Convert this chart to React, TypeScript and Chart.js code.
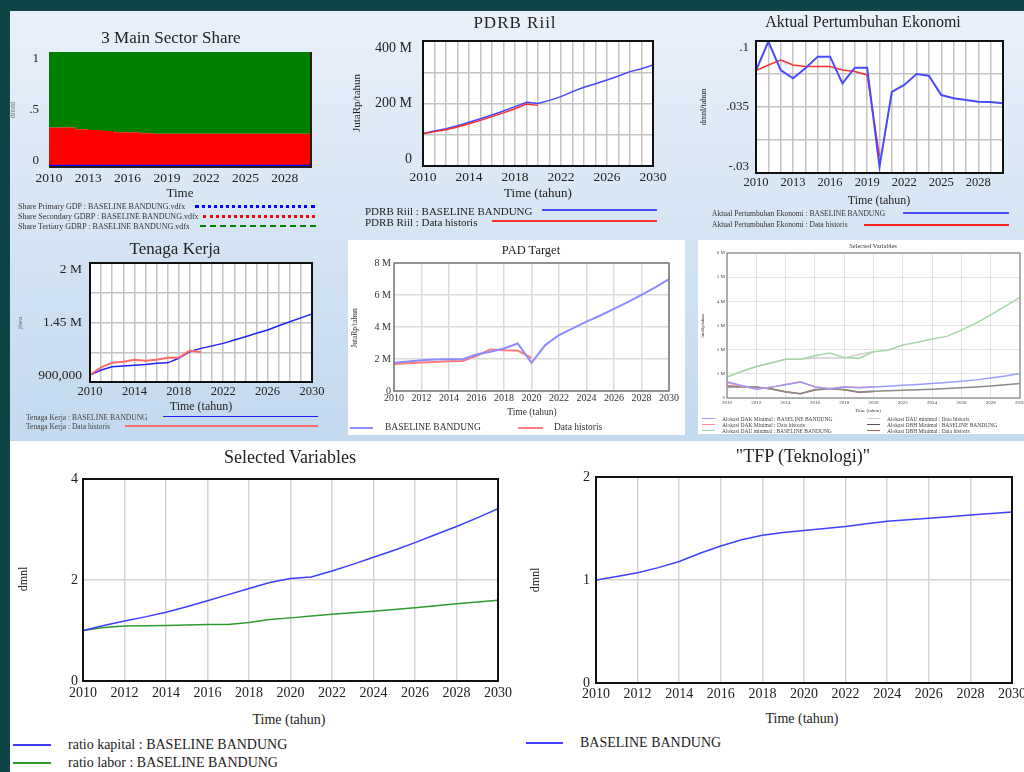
import React, { useEffect, useRef } from 'react';
import { Chart, registerables } from 'chart.js';
Chart.register(...registerables);

const SERIF = '"Liberation Serif","Times New Roman",serif';

// ---------- shared axes ----------
const YEARS = [2010, 2011, 2012, 2013, 2014, 2015, 2016, 2017, 2018, 2019, 2020, 2021, 2022, 2023, 2024, 2025, 2026, 2027, 2028, 2029, 2030];
const YEARS_HIST = [2010, 2011, 2012, 2013, 2014, 2015, 2016, 2017, 2018, 2019, 2020];
const X_GRID_1 = [2010, 2011, 2012, 2013, 2014, 2015, 2016, 2017, 2018, 2019, 2020, 2021, 2022, 2023, 2024, 2025, 2026, 2027, 2028, 2029, 2030];
const X_GRID_2 = [2010, 2012, 2014, 2016, 2018, 2020, 2022, 2024, 2026, 2028, 2030];
const X_LABELS_3 = [2010, 2013, 2016, 2019, 2022, 2025, 2028];
const X_LABELS_4 = [2010, 2014, 2018, 2022, 2026, 2030];
const X_LABELS_2 = [2010, 2012, 2014, 2016, 2018, 2020, 2022, 2024, 2026, 2028, 2030];

// ---------- 3 Main Sector Share ----------
const SHARE_PRIMARY = [0.01, 0.01, 0.01, 0.01, 0.01, 0.01, 0.01, 0.01, 0.01, 0.01, 0.01, 0.01, 0.01, 0.01, 0.01, 0.01, 0.01, 0.01, 0.01, 0.01, 0.01];
const SHARE_SECONDARY = [0.334, 0.334, 0.319, 0.311, 0.302, 0.293, 0.293, 0.284, 0.279, 0.279, 0.279, 0.279, 0.279, 0.279, 0.279, 0.279, 0.279, 0.279, 0.279, 0.279, 0.279];
const SHARE_TERTIARY = [0.656, 0.656, 0.671, 0.679, 0.688, 0.697, 0.697, 0.706, 0.711, 0.711, 0.711, 0.711, 0.711, 0.711, 0.711, 0.711, 0.711, 0.711, 0.711, 0.711, 0.711];
const SHARE_Y_LABELS: [number, string][] = [[0, '0'], [0.5, '.5'], [1, '1']];

// ---------- PDRB Riil (juta Rp, in millions) ----------
const PDRB_BASE = [104, 112, 119, 129, 140, 151, 163, 176, 190, 204, 200, 210, 222, 238, 252, 263, 275, 288, 302, 311, 323];
const PDRB_HIST = [103, 110, 116, 125, 135, 146, 158, 170, 183, 198, 194];
const PDRB_Y_GRID = [0, 100, 200, 300, 400];
const PDRB_Y_LABELS: [number, string][] = [[0, '0'], [200, '200 M'], [400, '400 M']];

// ---------- Aktual Pertumbuhan Ekonomi ----------
const GROWTH_BASE = [0.0708, 0.0995, 0.0714, 0.0633, 0.0731, 0.0846, 0.0846, 0.0583, 0.0737, 0.0737, -0.0238, 0.05, 0.0567, 0.0675, 0.0658, 0.0468, 0.0436, 0.0419, 0.0402, 0.04, 0.0386];
const GROWTH_HIST = [0.0708, 0.0764, 0.0813, 0.0764, 0.0748, 0.0748, 0.0748, 0.0714, 0.07, 0.0666, -0.0139];
const GROWTH_Y_GRID = [-0.03, 0.0025, 0.035, 0.0675, 0.1];
const GROWTH_Y_LABELS: [number, string][] = [[-0.03, '-.03'], [0.035, '.035'], [0.1, '.1']];

// ---------- Tenaga Kerja (millions) ----------
const TK_BASE = [0.965, 1.011, 1.041, 1.047, 1.054, 1.061, 1.073, 1.077, 1.119, 1.18, 1.211, 1.234, 1.257, 1.288, 1.319, 1.35, 1.381, 1.42, 1.457, 1.493, 1.529];
const TK_HIST = [0.965, 1.036, 1.079, 1.088, 1.106, 1.097, 1.106, 1.125, 1.125, 1.19, 1.175];
const TK_Y_GRID = [0.9, 1.175, 1.45, 1.725, 2.0];
const TK_Y_LABELS: [number, string][] = [[0.9, '900,000'], [1.45, '1.45 M'], [2, '2 M']];

// ---------- PAD Target (millions) ----------
const PAD_BASE = [1.76, 1.85, 1.92, 1.97, 1.99, 1.99, 2.28, 2.45, 2.66, 2.97, 1.76, 2.87, 3.5, 3.92, 4.34, 4.72, 5.13, 5.55, 6.01, 6.48, 7.0];
const PAD_HIST = [1.68, 1.73, 1.78, 1.82, 1.86, 1.88, 2.2, 2.6, 2.55, 2.53, 2.07];
const PAD_Y_GRID = [0, 2, 4, 6, 8];
const PAD_Y_LABELS: [number, string][] = [[0, '0'], [2, '2 M'], [4, '4 M'], [6, '6 M'], [8, '8 M']];

// ---------- Selected Variables (transfer allocations, millions) ----------
const DAK_BASE = [0.67, 0.52, 0.36, 0.45, 0.55, 0.66, 0.46, 0.37, 0.46, 0.42, 0.46, 0.49, 0.53, 0.56, 0.6, 0.64, 0.69, 0.75, 0.83, 0.91, 1.01];
const DAK_HIST = [0.64, 0.5, 0.37, 0.44, 0.56, 0.67, 0.47, 0.38, 0.47, 0.43, 0.47];
const DAU_BASE = [0.87, 1.1, 1.3, 1.45, 1.6, 1.6, 1.75, 1.86, 1.68, 1.64, 1.91, 1.98, 2.19, 2.31, 2.44, 2.55, 2.81, 3.1, 3.44, 3.8, 4.16];
const DAU_HIST = [0.87, 1.1, 1.3, 1.45, 1.6, 1.6, 1.66, 1.66, 1.66, 1.8, 1.91];
const DBH_BASE = [0.46, 0.46, 0.46, 0.37, 0.25, 0.18, 0.35, 0.39, 0.35, 0.25, 0.28, 0.3, 0.32, 0.34, 0.36, 0.39, 0.42, 0.46, 0.5, 0.55, 0.6];
const DBH_HIST = [0.5, 0.48, 0.45, 0.38, 0.26, 0.18, 0.33, 0.38, 0.34, 0.24, 0.27];
const ALOK_Y_GRID = [0, 1, 2, 3, 4, 5, 6];
const ALOK_Y_LABELS: [number, string][] = [[0, '0'], [1, '1 M'], [2, '2 M'], [3, '3 M'], [4, '4 M'], [5, '5 M'], [6, '6 M']];

// ---------- ratio kapital / labor ----------
const RATIO_KAPITAL = [1.0, 1.1, 1.19, 1.27, 1.36, 1.47, 1.59, 1.71, 1.83, 1.95, 2.03, 2.06, 2.18, 2.31, 2.45, 2.59, 2.74, 2.9, 3.06, 3.23, 3.41];
const RATIO_LABOR = [1.0, 1.06, 1.09, 1.095, 1.1, 1.11, 1.12, 1.12, 1.16, 1.22, 1.25, 1.285, 1.32, 1.35, 1.38, 1.415, 1.45, 1.49, 1.53, 1.565, 1.6];
const RATIO_Y_GRID = [0, 2, 4];
const RATIO_Y_LABELS: [number, string][] = [[0, '0'], [2, '2'], [4, '4']];

// ---------- TFP ----------
const TFP = [1.0, 1.035, 1.07, 1.12, 1.18, 1.26, 1.33, 1.39, 1.435, 1.46, 1.48, 1.5, 1.52, 1.545, 1.57, 1.585, 1.6, 1.615, 1.63, 1.645, 1.66];
const TFP_Y_GRID = [0, 1, 2];
const TFP_Y_LABELS: [number, string][] = [[0, '0'], [1, '1'], [2, '2']];

const pts = (xs: number[], ys: number[]) => ys.map((y, i) => ({ x: xs[i], y }));
const line = (xs: number[], ys: number[], color: string, w: number, extra: any = {}) => ({
  data: pts(xs, ys), borderColor: color, backgroundColor: color, borderWidth: w, fill: false, pointRadius: 0, tension: 0, ...extra,
});

interface Spec {
  plot: [number, number, number, number];
  xMin: number; xMax: number; xGrid: number[] | null; xLabels: number[];
  yMin: number; yMax: number; yGrid: number[] | null; yLabels: [number, string][];
  stacked?: boolean;
  grid: string; gridW: number; frame: string; frameW: number; frameSides?: 'all' | 'rb';
  plotBg?: string;
  xFont: number; yFont: number; xDy: number; yDx: number; clamp: boolean; tickColor: string;
  datasets: any[];
}

function VChart({ spec }: { spec: Spec }) {
  const ref = useRef<HTMLCanvasElement>(null);
  const [x0, y0, x1, y1] = spec.plot;
  const L = 64, T = 14, R = 14, B = 28;
  const bx = x0 - L, by = y0 - T, bw = x1 - x0 + L + R, bh = y1 - y0 + T + B;
  useEffect(() => {
    const canvas = ref.current!;
    const decor = {
      id: 'decor',
      beforeDraw(chart: any) {
        if (!spec.plotBg) return;
        const { ctx, chartArea: a } = chart;
        ctx.save();
        ctx.fillStyle = spec.plotBg;
        ctx.fillRect(a.left, a.top, a.right - a.left, a.bottom - a.top);
        ctx.restore();
      },
      afterDatasetsDraw(chart: any) {
        const { ctx, chartArea: a } = chart;
        ctx.save();
        ctx.strokeStyle = spec.frame;
        ctx.lineWidth = spec.frameW;
        if (spec.frameSides === 'rb') {
          ctx.beginPath();
          ctx.moveTo(a.right, a.top);
          ctx.lineTo(a.right, a.bottom);
          ctx.lineTo(a.left, a.bottom);
          ctx.stroke();
        } else {
          ctx.strokeRect(a.left, a.top, a.right - a.left, a.bottom - a.top);
        }
        ctx.restore();
      },
      afterDraw(chart: any) {
        const { ctx, chartArea: a, scales } = chart;
        ctx.save();
        ctx.fillStyle = spec.tickColor;
        ctx.textBaseline = 'middle';
        ctx.font = `${spec.xFont}px ${SERIF}`;
        ctx.textAlign = 'center';
        spec.xLabels.forEach((v) => ctx.fillText(String(v), scales.x.getPixelForValue(v), a.bottom + spec.xDy));
        ctx.font = `${spec.yFont}px ${SERIF}`;
        ctx.textAlign = 'right';
        const h = spec.yFont / 2;
        spec.yLabels.forEach(([v, t]) => {
          let y = scales.y.getPixelForValue(v);
          if (spec.clamp) y = Math.max(a.top + h, Math.min(a.bottom - h, y));
          ctx.fillText(t, a.left - spec.yDx, y);
        });
        ctx.restore();
      },
    };
    const chart = new Chart(canvas, {
      type: 'line',
      data: { datasets: spec.datasets },
      options: {
        responsive: false,
        maintainAspectRatio: false,
        animation: false,
        events: [],
        layout: { padding: { left: L, top: T, right: R, bottom: B } },
        plugins: { legend: { display: false }, title: { display: false }, tooltip: { enabled: false } },
        scales: {
          x: {
            type: 'linear', min: spec.xMin, max: spec.xMax,
            ticks: { display: false },
            border: { display: false },
            grid: { display: !!spec.xGrid, color: spec.grid, lineWidth: spec.gridW, drawTicks: false },
            afterBuildTicks: (s: any) => { s.ticks = (spec.xGrid || []).map((v) => ({ value: v })); },
            afterFit: (s: any) => { s.height = 0; },
          },
          y: {
            type: 'linear', min: spec.yMin, max: spec.yMax, stacked: !!spec.stacked,
            ticks: { display: false },
            border: { display: false },
            grid: { display: !!spec.yGrid, color: spec.grid, lineWidth: spec.gridW, drawTicks: false },
            afterBuildTicks: (s: any) => { s.ticks = (spec.yGrid || []).map((v) => ({ value: v })); },
            afterFit: (s: any) => { s.width = 0; },
          },
        },
      } as any,
      plugins: [decor],
    });
    return () => chart.destroy();
  }, []);
  return <canvas ref={ref} width={bw} height={bh} style={{ position: 'absolute', left: bx, top: by, width: bw, height: bh }} />;
}

function Txt({ x, y, t, s, a = 'c', rot = false, color = '#222', ls = 0 }: any) {
  const base = s < 9 ? s * 2 : s;
  const k = s / base;
  const tr = (a === 'c' ? 'translate(-50%,-50%)' : 'translate(0,-50%)') + (rot ? ' rotate(-90deg)' : '') + (k !== 1 ? ` scale(${k})` : '');
  return (
    <div style={{
      position: 'absolute', left: x, top: y, transform: tr, transformOrigin: a === 'c' ? 'center center' : 'left center',
      fontSize: base, lineHeight: 1, whiteSpace: 'nowrap', color, letterSpacing: ls, fontFamily: SERIF,
    }}>{t}</div>
  );
}

function Ln({ x0, x1, y, c, w = 2, st = 'solid' }: any) {
  return <div style={{ position: 'absolute', left: x0, top: y - w / 2, width: x1 - x0, height: 0, borderTop: `${w}px ${st} ${c}` }} />;
}

const vensim = { grid: '#c4c4c4', gridW: 1.5, frame: '#111', frameW: 2, plotBg: '#ffffff', clamp: true, tickColor: '#222' };

const SPECS: Spec[] = [
  {
    plot: [49, 52, 311, 167], xMin: 2010, xMax: 2030, xGrid: null, xLabels: X_LABELS_3,
    yMin: 0, yMax: 1, yGrid: null, yLabels: SHARE_Y_LABELS, stacked: true,
    grid: '#ccc', gridW: 1, frame: '#2a1a1a', frameW: 2, frameSides: 'rb', clamp: true, tickColor: '#222',
    xFont: 13.5, yFont: 13, xDy: 11, yDx: 10,
    datasets: [
      line(YEARS, SHARE_PRIMARY, '#0000ff', 2, { fill: 'origin', stepped: true }),
      line(YEARS, SHARE_SECONDARY, '#ff0000', 0, { fill: '-1', stepped: true }),
      line(YEARS, SHARE_TERTIARY, '#008000', 0, { fill: '-1', stepped: true }),
    ],
  },
  {
    ...vensim, plot: [423, 41, 653, 166], xMin: 2010, xMax: 2030, xGrid: X_GRID_1, xLabels: X_LABELS_4,
    yMin: 0, yMax: 400, yGrid: PDRB_Y_GRID, yLabels: PDRB_Y_LABELS,
    xFont: 13.5, yFont: 14, xDy: 11, yDx: 11,
    datasets: [line(YEARS_HIST, PDRB_HIST, '#ff2a2a', 1.5), line(YEARS, PDRB_BASE, '#4646ff', 1.5)],
  },
  {
    ...vensim, plot: [756, 41, 1003, 173], xMin: 2010, xMax: 2030, xGrid: X_GRID_1, xLabels: X_LABELS_3,
    yMin: -0.03, yMax: 0.1, yGrid: GROWTH_Y_GRID, yLabels: GROWTH_Y_LABELS,
    xFont: 12.5, yFont: 13, xDy: 10, yDx: 7,
    datasets: [line(YEARS, GROWTH_BASE, '#4a4aff', 2), line(YEARS_HIST, GROWTH_HIST, '#ff3030', 1.5)],
  },
  {
    ...vensim, plot: [90, 263, 312, 382], xMin: 2010, xMax: 2030, xGrid: X_GRID_1, xLabels: X_LABELS_4,
    yMin: 0.9, yMax: 2.0, yGrid: TK_Y_GRID, yLabels: TK_Y_LABELS,
    xFont: 12.5, yFont: 13.5, xDy: 10, yDx: 8,
    datasets: [line(YEARS_HIST, TK_HIST, '#ff6a6a', 2), line(YEARS, TK_BASE, '#2020ff', 1.5)],
  },
  {
    plot: [394, 263, 669, 391], xMin: 2010, xMax: 2030, xGrid: X_GRID_2, xLabels: X_LABELS_2,
    yMin: 0, yMax: 8, yGrid: PAD_Y_GRID, yLabels: PAD_Y_LABELS,
    grid: '#dcdcdc', gridW: 1.5, frame: '#777', frameW: 1.5, plotBg: '#fff', clamp: false, tickColor: '#333',
    xFont: 10, yFont: 10, xDy: 7, yDx: 3,
    datasets: [line(YEARS, PAD_BASE, '#8c8cff', 2), line(YEARS_HIST, PAD_HIST, '#ff7a7a', 2)],
  },
  {
    plot: [727, 253, 1020, 398], xMin: 2010, xMax: 2030, xGrid: X_GRID_2, xLabels: X_LABELS_2,
    yMin: 0, yMax: 6, yGrid: ALOK_Y_GRID, yLabels: ALOK_Y_LABELS,
    grid: '#e2e2e2', gridW: 1, frame: '#999', frameW: 1.5, plotBg: '#fff', clamp: false, tickColor: '#444',
    xFont: 5, yFont: 5, xDy: 5, yDx: 2,
    datasets: [
      line(YEARS, DAK_BASE, '#9d9dff', 1.5),
      line(YEARS_HIST, DAK_HIST, '#ff8a8a', 1.5),
      line(YEARS, DAU_BASE, '#a6d6a6', 1.5),
      line(YEARS_HIST, DAU_HIST, '#cfcfcf', 1.5),
      line(YEARS, DBH_BASE, '#8a8a8a', 1.5),
      line(YEARS_HIST, DBH_HIST, '#b06060', 1.5),
    ],
  },
  {
    plot: [83, 479, 498, 681], xMin: 2010, xMax: 2030, xGrid: X_GRID_2, xLabels: X_LABELS_2,
    yMin: 0, yMax: 4, yGrid: RATIO_Y_GRID, yLabels: RATIO_Y_LABELS,
    grid: '#d6d6d6', gridW: 1.5, frame: '#111', frameW: 2, plotBg: '#fff', clamp: false, tickColor: '#222',
    xFont: 14, yFont: 14, xDy: 12, yDx: 5,
    datasets: [line(YEARS, RATIO_KAPITAL, '#3d3dff', 1.5), line(YEARS, RATIO_LABOR, '#2e9a2e', 1.5)],
  },
  {
    plot: [596, 477, 1012, 683], xMin: 2010, xMax: 2030, xGrid: X_GRID_2, xLabels: X_LABELS_2,
    yMin: 0, yMax: 2, yGrid: TFP_Y_GRID, yLabels: TFP_Y_LABELS,
    grid: '#d6d6d6', gridW: 1.5, frame: '#111', frameW: 2, plotBg: '#fff', clamp: false, tickColor: '#222',
    xFont: 14, yFont: 14, xDy: 11, yDx: 6,
    datasets: [line(YEARS, TFP, '#4040ff', 1.5)],
  },
];

const ALOK_LEGEND: [number, number, string, string][] = [
  [702, 419, '#9d9dff', 'Alokasi DAK Minimal : BASELINE BANDUNG'],
  [702, 424.5, '#ff8a8a', 'Alokasi DAK Minimal : Data historis'],
  [702, 431, '#a6d6a6', 'Alokasi DAU minimal : BASELINE BANDUNG'],
  [867, 419, '#cfcfcf', 'Alokasi DAU minimal : Data historis'],
  [867, 424.5, '#555555', 'Alokasi DBH Minimal : BASELINE BANDUNG'],
  [867, 431, '#b06060', 'Alokasi DBH Minimal : Data historis'],
];

export default function App() {
  return (
    <div style={{ position: 'absolute', left: 0, top: 0, width: 1024, height: 772, overflow: 'hidden', background: '#0f4547', fontFamily: SERIF }}>
      <div style={{ position: 'absolute', left: 10, top: 11, width: 1014, height: 430, background: 'linear-gradient(180deg,#e9f0f9 0%,#c3d9ef 100%)' }} />
      <div style={{ position: 'absolute', left: 10, top: 441, width: 1014, height: 331, background: '#ffffff' }} />
      <div style={{ position: 'absolute', left: 348, top: 240, width: 337, height: 195, background: '#ffffff' }} />
      <div style={{ position: 'absolute', left: 698, top: 240, width: 326, height: 194, background: '#ffffff' }} />

      {SPECS.map((s, i) => <VChart key={i} spec={s} />)}

      {/* 3 Main Sector Share */}
      <Txt x={171} y={37} t="3 Main Sector Share" s={17} />
      <Txt x={12} y={110} t="dmnl" s={8} rot color="#777" />
      <Txt x={180} y={192} t="Time" s={13} />
      <Txt x={18} y={206} t="Share Primary GDP : BASELINE BANDUNG.vdfx" s={8} a="l" color="#333" />
      <Txt x={18} y={216} t="Share Secondary GDRP : BASELINE BANDUNG.vdfx" s={8} a="l" color="#333" />
      <Txt x={18} y={226} t="Share Tertiary GDRP : BASELINE BANDUNG.vdfx" s={8} a="l" color="#333" />
      <Ln x0={195} x1={315} y={206} c="#0000ff" w={3} st="dotted" />
      <Ln x0={203} x1={315} y={216} c="#ff0000" w={3} st="dotted" />
      <Ln x0={200} x1={316} y={226} c="#008000" w={2} st="dashed" />

      {/* PDRB Riil */}
      <Txt x={515} y={22} t="PDRB Riil" s={17} ls={1} />
      <Txt x={356} y={103} t="JutaRp/tahun" s={11} rot />
      <Txt x={538} y={192} t="Time (tahun)" s={13} />
      <Txt x={365} y={211} t="PDRB Riil : BASELINE BANDUNG" s={11} a="l" />
      <Txt x={365} y={222} t="PDRB Riil : Data historis" s={11} a="l" />
      <Ln x0={542} x1={657} y={210} c="#4a4aff" w={2} />
      <Ln x0={492} x1={657} y={221} c="#ff3030" w={2} />

      {/* Aktual Pertumbuhan Ekonomi */}
      <Txt x={863} y={22} t="Aktual Pertumbuhan Ekonomi" s={16} />
      <Txt x={703} y={107} t="dmnl/tahun" s={8} rot />
      <Txt x={879} y={200} t="Time (tahun)" s={12} />
      <Txt x={712} y={214} t="Aktual Pertumbuhan Ekonomi : BASELINE BANDUNG" s={7.5} a="l" color="#333" />
      <Txt x={712} y={225} t="Aktual Pertumbuhan Ekonomi : Data historis" s={7.5} a="l" color="#333" />
      <Ln x0={903} x1={1009} y={213} c="#4a4aff" w={2} />
      <Ln x0={864} x1={1009} y={225} c="#ff2020" w={2} />

      {/* Tenaga Kerja */}
      <Txt x={175} y={248} t="Tenaga Kerja" s={17} />
      <Txt x={20} y={323} t="jiwa" s={7} rot color="#555" />
      <Txt x={201} y={406} t="Time (tahun)" s={12} />
      <Txt x={26} y={418} t="Tenaga Kerja : BASELINE BANDUNG" s={7.5} a="l" color="#444" />
      <Txt x={26} y={427} t="Tenaga Kerja : Data historis" s={7.5} a="l" color="#444" />
      <Ln x0={163} x1={318} y={417} c="#2020ff" w={1.5} />
      <Ln x0={125} x1={318} y={426} c="#ff6a6a" w={2} />

      {/* PAD Target */}
      <Txt x={531} y={250} t="PAD Target" s={12.5} />
      <Txt x={355} y={328} t="JutaRp/tahun" s={7.5} rot color="#333" />
      <Txt x={532} y={413} t="Time (tahun)" s={9.5} color="#333" />
      <Ln x0={350} x1={373} y={428} c="#8c8cff" w={2} />
      <Txt x={385} y={428} t="BASELINE BANDUNG" s={9.5} a="l" color="#333" />
      <Ln x0={518} x1={543} y={428} c="#ff7a7a" w={2} />
      <Txt x={554} y={428} t="Data historis" s={9.5} a="l" color="#333" />

      {/* Selected Variables (small) */}
      <Txt x={873} y={246} t="Selected Variables" s={6.5} color="#333" />
      <Txt x={703} y={326} t="JutaRp/tahun" s={4.5} rot color="#444" />
      <Txt x={868} y={410} t="Time (tahun)" s={5} color="#444" />
      {ALOK_LEGEND.map(([x, y, c, t], i) => (
        <React.Fragment key={i}>
          <Ln x0={x} x1={x + 13} y={y} c={c} w={1.5} />
          <Txt x={x + 20} y={y} t={t} s={5.5} a="l" color="#444" />
        </React.Fragment>
      ))}

      {/* Selected Variables (bottom) */}
      <Txt x={290} y={457} t="Selected Variables" s={18} />
      <Txt x={23} y={579} t="dmnl" s={12} rot />
      <Txt x={289} y={720} t="Time (tahun)" s={14} />
      <Ln x0={13} x1={51} y={745} c="#3d3dff" w={2} />
      <Txt x={68} y={745} t="ratio kapital : BASELINE BANDUNG" s={14} a="l" />
      <Ln x0={13} x1={51} y={763} c="#2e9a2e" w={2} />
      <Txt x={68} y={763} t="ratio labor : BASELINE BANDUNG" s={14} a="l" />

      {/* TFP */}
      <Txt x={803} y={456} t={'"TFP (Teknologi)"'} s={18} />
      <Txt x={535} y={580} t="dmnl" s={12} rot />
      <Txt x={802} y={719} t="Time (tahun)" s={14} />
      <Ln x0={526} x1={563} y={743} c="#4040ff" w={2} />
      <Txt x={580} y={743} t="BASELINE BANDUNG" s={14} a="l" />
    </div>
  );
}
